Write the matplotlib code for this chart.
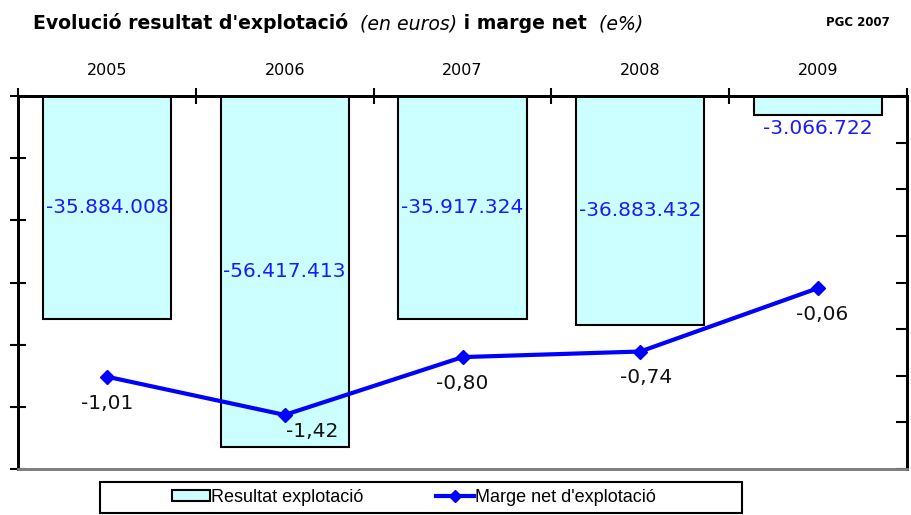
import matplotlib

matplotlib.use("Agg")
import matplotlib.pyplot as plt
import numpy as np
from matplotlib.lines import Line2D
from matplotlib.patches import Patch, Rectangle

years = ["2005", "2006", "2007", "2008", "2009"]
resultat = [-35884008, -56417413, -35917324, -36883432, -3066722]
marge = [-1.01, -1.42, -0.80, -0.74, -0.06]

# label offsets (points) for the margin values, relative to each marker
marge_offsets = [(0, -19), (20, -12), (0, -19), (4, -19), (3, -19)]

BAR_FACE = "#ccffff"
LINE_BLUE = "#0000ff"
LABEL_BLUE = "#1a1aff"
ARIAL = ["Liberation Sans", "DejaVu Sans"]
WIDE = ["DejaVu Sans"]


def fmt_euros(v):
    return f"{v:,.0f}".replace(",", ".")


def fmt_pct(v):
    return f"{v:.2f}".replace(".", ",")


fig = plt.figure(figsize=(9.12, 5.15), dpi=100)
ax = fig.add_axes([18 / 912, 1 - 469 / 515, 889 / 912, 373 / 515])
ax2 = ax.twinx()

x = np.arange(len(years))
ax.bar(x, resultat, width=0.72, color=BAR_FACE, edgecolor="black", linewidth=1.5, zorder=2)
ax.set_xlim(-0.5, len(years) - 0.5)
ax.set_ylim(-60e6, 0)
ax.set_yticks(np.arange(-60e6, 1, 10e6))
ax.set_yticklabels([])
ax.tick_params(axis="y", direction="inout", length=11, width=1.5)

# category axis sits along the top (value 0)
ax.xaxis.set_ticks_position("top")
ax.set_xticks(x)
ax.set_xticklabels(years, fontsize=11.5, family=WIDE)
ax.set_xticks(np.arange(-0.5, len(years)), minor=True)
ax.tick_params(axis="x", which="major", length=0, pad=13)
ax.tick_params(axis="x", which="minor", direction="inout", length=11, width=1.5)

for v, xi in zip(resultat, x):
    if abs(v) > 10e6:
        ax.text(xi, v / 2, fmt_euros(v), ha="center", va="center",
                color=LABEL_BLUE, fontsize=14.5, family=WIDE, zorder=3)
    else:
        ax.annotate(fmt_euros(v), (xi, v), xytext=(0, -3), textcoords="offset points",
                    ha="center", va="top", color=LABEL_BLUE, fontsize=14.5, family=WIDE)

ax2.plot(x, marge, color=LINE_BLUE, linewidth=3, marker="D", markersize=7, zorder=4)
ax2.set_ylim(-2, 2)
ax2.set_yticks(np.arange(-2, 2.01, 0.5))
ax2.set_yticklabels([])
ax2.tick_params(axis="y", direction="in", length=8, width=1.5)
for v, xi, off in zip(marge, x, marge_offsets):
    ax2.annotate(fmt_pct(v), (xi, v), xytext=off, textcoords="offset points",
                 ha="center", va="center", color="#111111", fontsize=14.5, family=WIDE)

for a in (ax, ax2):
    a.spines["top"].set_linewidth(2)
    a.spines["left"].set_linewidth(2)
    a.spines["right"].set_linewidth(2)
    a.spines["bottom"].set_color("#808080")
    a.spines["bottom"].set_linewidth(2)

# title made of bold and italic pieces placed one after another
prev = fig.text(33 / 912, 1 - 29 / 515, "Evolució resultat d'explotació", fontsize=13.6,
                fontweight="bold", family=WIDE, va="baseline")
pieces = [("  (en euros)", "italic", "normal"), (" i marge net", "normal", "bold"),
          ("  (e%)", "italic", "normal")]
for txt, style, weight in pieces:
    prev = ax.annotate(txt, xy=(1, 0), xycoords=prev, va="bottom", ha="left",
                       fontsize=13.6, fontstyle=style, fontweight=weight, family=WIDE,
                       annotation_clip=False)
fig.text(890 / 912, 1 - 26 / 515, "PGC 2007", fontsize=8.5, fontweight="bold",
         family=WIDE, ha="right", va="baseline")

# legend inside a plain rectangular box
fig.patches.append(Rectangle((100 / 912, 2 / 515), 642 / 912, 31 / 515,
                             transform=fig.transFigure, fill=False,
                             edgecolor="black", linewidth=1.5))
handles = [Patch(facecolor=BAR_FACE, edgecolor="black", linewidth=1.5),
           Line2D([0], [0], color=LINE_BLUE, linewidth=3, marker="D", markersize=6)]
fig.legend(handles, ["Resultat explotació", "Marge net d'explotació"], ncol=2,
           loc="center", bbox_to_anchor=(414 / 912, 1 - 497 / 515), frameon=False,
           prop={"family": ARIAL, "size": 13}, handlelength=2.1, handleheight=0.55,
           handletextpad=0.05, columnspacing=4.0)

fig.savefig("out.png", dpi=100)
